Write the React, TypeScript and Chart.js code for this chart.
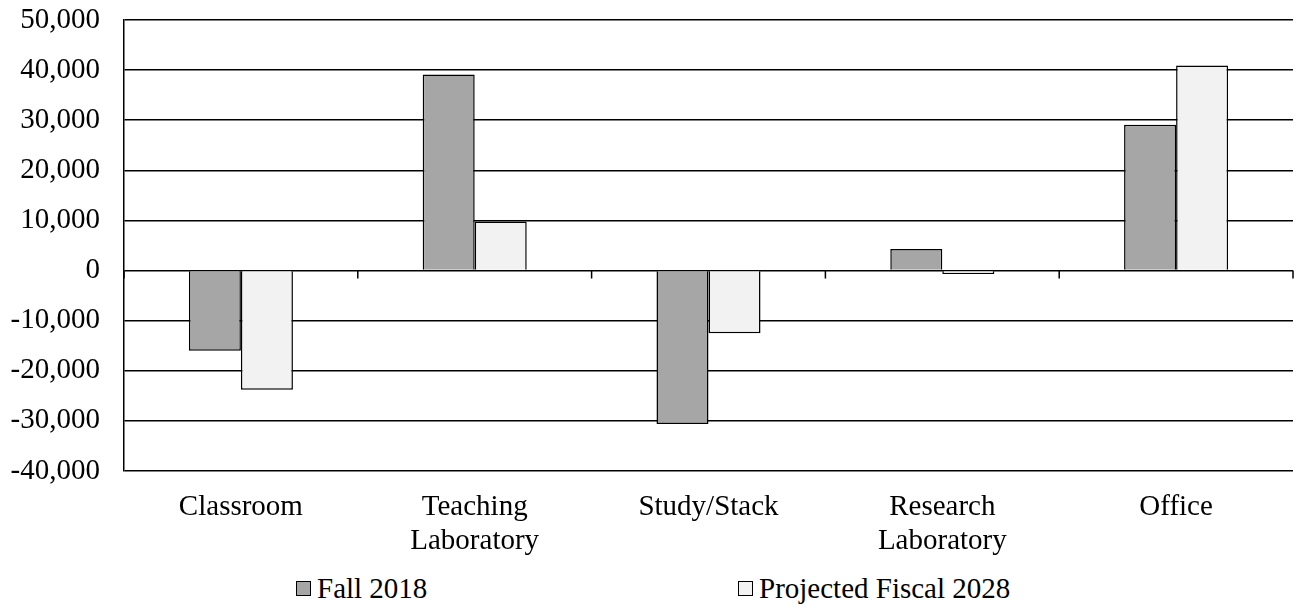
import React, { useEffect, useRef } from "react";
import { Chart, registerables } from "chart.js";

Chart.register(...registerables);

const categories: (string | string[])[] = [
  "Classroom",
  ["Teaching", "Laboratory"],
  "Study/Stack",
  ["Research", "Laboratory"],
  "Office",
];
const fall2018 = [-16000, 39100, -30600, 4300, 29100];
const projected2028 = [-23800, 9800, -12500, -700, 40900];
const seriesNames = ["Fall 2018", "Projected Fiscal 2028"];
const seriesColors = ["#a6a6a6", "#f2f2f2"];
const yMin = -40000;
const yMax = 50000;
const yStep = 10000;

const FONT = "'Liberation Serif', 'Times New Roman', serif";

const zeroTicks = {
  id: "zeroTicks",
  afterDatasetsDraw(chart: any) {
    const x = chart.scales.x;
    const y = chart.scales.y;
    const ctx = chart.ctx;
    const zy = y.getPixelForValue(0);
    ctx.save();
    ctx.strokeStyle = "#000";
    ctx.lineWidth = 1.5;
    ctx.beginPath();
    for (let i = 0; i <= categories.length; i++) {
      const px = x.getPixelForValue(i - 0.5);
      ctx.moveTo(px, zy);
      ctx.lineTo(px, zy + 8);
    }
    ctx.stroke();
    ctx.restore();
  },
};

export default function App() {
  const ref = useRef<HTMLCanvasElement | null>(null);
  useEffect(() => {
    if (!ref.current) return;
    const chart = new Chart(ref.current, {
      type: "bar",
      data: {
        labels: categories,
        datasets: [
          {
            label: seriesNames[0],
            data: fall2018,
            backgroundColor: seriesColors[0],
            borderColor: "#000",
            borderWidth: 1.5,
            categoryPercentage: 0.445,
            barPercentage: 1,
          },
          {
            label: seriesNames[1],
            data: projected2028,
            backgroundColor: seriesColors[1],
            borderColor: "#000",
            borderWidth: 1.5,
            categoryPercentage: 0.445,
            barPercentage: 1,
          },
        ],
      },
      options: {
        animation: false,
        responsive: false,
        maintainAspectRatio: false,
        layout: { padding: { top: 20, right: 4, left: 0, bottom: 0 } },
        plugins: { legend: { display: false }, tooltip: { enabled: false } },
        scales: {
          x: {
            grid: { display: false },
            border: { display: false },
            ticks: {
              color: "#000",
              font: { family: FONT, size: 29, lineHeight: 1.18 },
              padding: 11,
              maxRotation: 0,
              autoSkip: false,
            },
            afterFit: (s: any) => {
              s.height = 89;
            },
          },
          y: {
            min: yMin,
            max: yMax,
            grid: { color: "#000", lineWidth: 1.5, drawTicks: false },
            border: { color: "#000", width: 1.5 },
            ticks: {
              stepSize: yStep,
              color: "#000",
              font: { family: FONT, size: 29 },
              padding: 24,
              callback: (v: any) => Number(v).toLocaleString("en-US"),
            },
            afterFit: (s: any) => {
              s.width = 124;
              s.paddingTop = 0;
              s.paddingBottom = 0;
            },
          },
        },
      },
      plugins: [zeroTicks],
    });
    return () => chart.destroy();
  }, []);

  const legendItem = (i: number) => (
    <div style={{ display: "flex", alignItems: "center" }}>
      <span
        style={{
          display: "inline-block",
          width: 13,
          height: 13,
          border: "1.5px solid #000",
          background: seriesColors[i],
          marginRight: 6,
        }}
      />
      <span>{seriesNames[i]}</span>
    </div>
  );

  return (
    <div
      style={{
        position: "absolute",
        left: 0,
        top: 0,
        width: 1297,
        height: 605,
        background: "#fff",
        fontFamily: FONT,
      }}
    >
      <canvas ref={ref} width={1297} height={560} style={{ display: "block" }} />
      <div
        style={{
          position: "absolute",
          top: 571,
          left: 0,
          width: 1297,
          fontSize: 29,
          lineHeight: "34px",
          color: "#000",
        }}
      >
        <div style={{ position: "absolute", left: 296 }}>{legendItem(0)}</div>
        <div style={{ position: "absolute", left: 738 }}>{legendItem(1)}</div>
      </div>
    </div>
  );
}
